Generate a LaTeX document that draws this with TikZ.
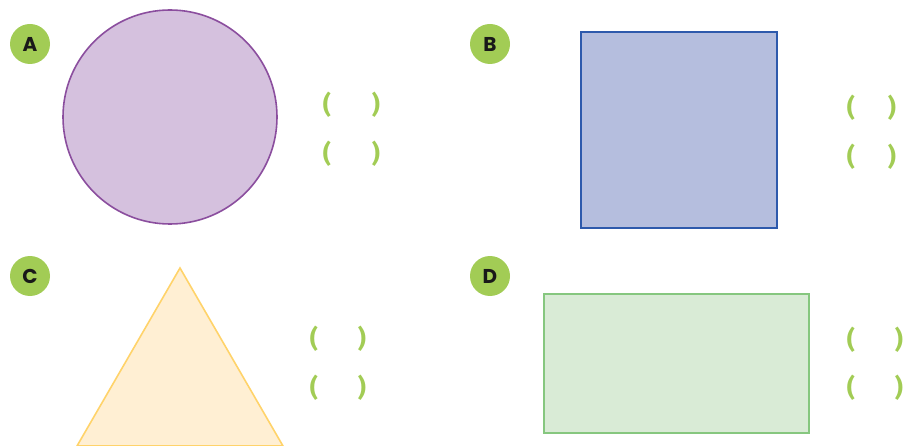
\documentclass[tikz,border=0pt]{standalone}
\usepackage{fontspec}
\setmainfont{Poppins}
\newfontfamily\parfont{Fira Sans}
\definecolor{badgegreen}{HTML}{A2CC55}
\definecolor{parengreen}{HTML}{A2CC55}
\definecolor{circfill}{HTML}{D5C1DE}
\definecolor{circline}{HTML}{8B4E9E}
\definecolor{sqfill}{HTML}{B5BEDE}
\definecolor{sqline}{HTML}{2E5AAC}
\definecolor{trifill}{HTML}{FFEFD3}
\definecolor{triline}{HTML}{FFD36A}
\definecolor{rectfill}{HTML}{D9EBD6}
\definecolor{rectline}{HTML}{86C77F}
\begin{document}
\begin{tikzpicture}[x=1pt,y=-1pt,
  badge/.style={circle,fill=badgegreen,minimum size=40pt,inner sep=0pt,font=\fontsize{20}{20}\selectfont\bfseries,text=black!90},
  paren/.style={inner sep=0pt,text=parengreen,font=\parfont\fontsize{25}{25}\selectfont\bfseries},
  shapeline/.style={line width=1.6pt}]
\useasboundingbox (0,0) rectangle (904,446);
\clip (0,0) rectangle (904,446);
% badges
\node[badge] (bA) at (30,44) {A};
\node[badge] (bB) at (490,44) {B};
\node[badge] (bC) at (30,276) {C};
\node[badge] (bD) at (490,276) {D};
% shapes
\draw[shapeline,fill=circfill,draw=circline] (170,117) circle (107);
\draw[shapeline,fill=sqfill,draw=sqline] (581,32) rectangle (777,228);
\draw[shapeline,fill=trifill,draw=triline] (180,268) -- (283,446) -- (77,446) -- cycle;
\draw[shapeline,fill=rectfill,draw=rectline] (544,294) rectangle (809,433);
% parentheses
\node[paren] (pA1l) at (327,105) {(};
\node[paren] (pA1r) at (376,105) {)};
\node[paren] (pA2l) at (327,154) {(};
\node[paren] (pA2r) at (376,154) {)};
\node[paren] (pB1l) at (851,108) {(};
\node[paren] (pB1r) at (892,108) {)};
\node[paren] (pB2l) at (851,157) {(};
\node[paren] (pB2r) at (892,157) {)};
\node[paren] (pC1l) at (314,339) {(};
\node[paren] (pC1r) at (362,339) {)};
\node[paren] (pC2l) at (314,388) {(};
\node[paren] (pC2r) at (362,388) {)};
\node[paren] (pD1l) at (851,340) {(};
\node[paren] (pD1r) at (899,340) {)};
\node[paren] (pD2l) at (851,388) {(};
\node[paren] (pD2r) at (899,388) {)};
\end{tikzpicture}
\end{document}
